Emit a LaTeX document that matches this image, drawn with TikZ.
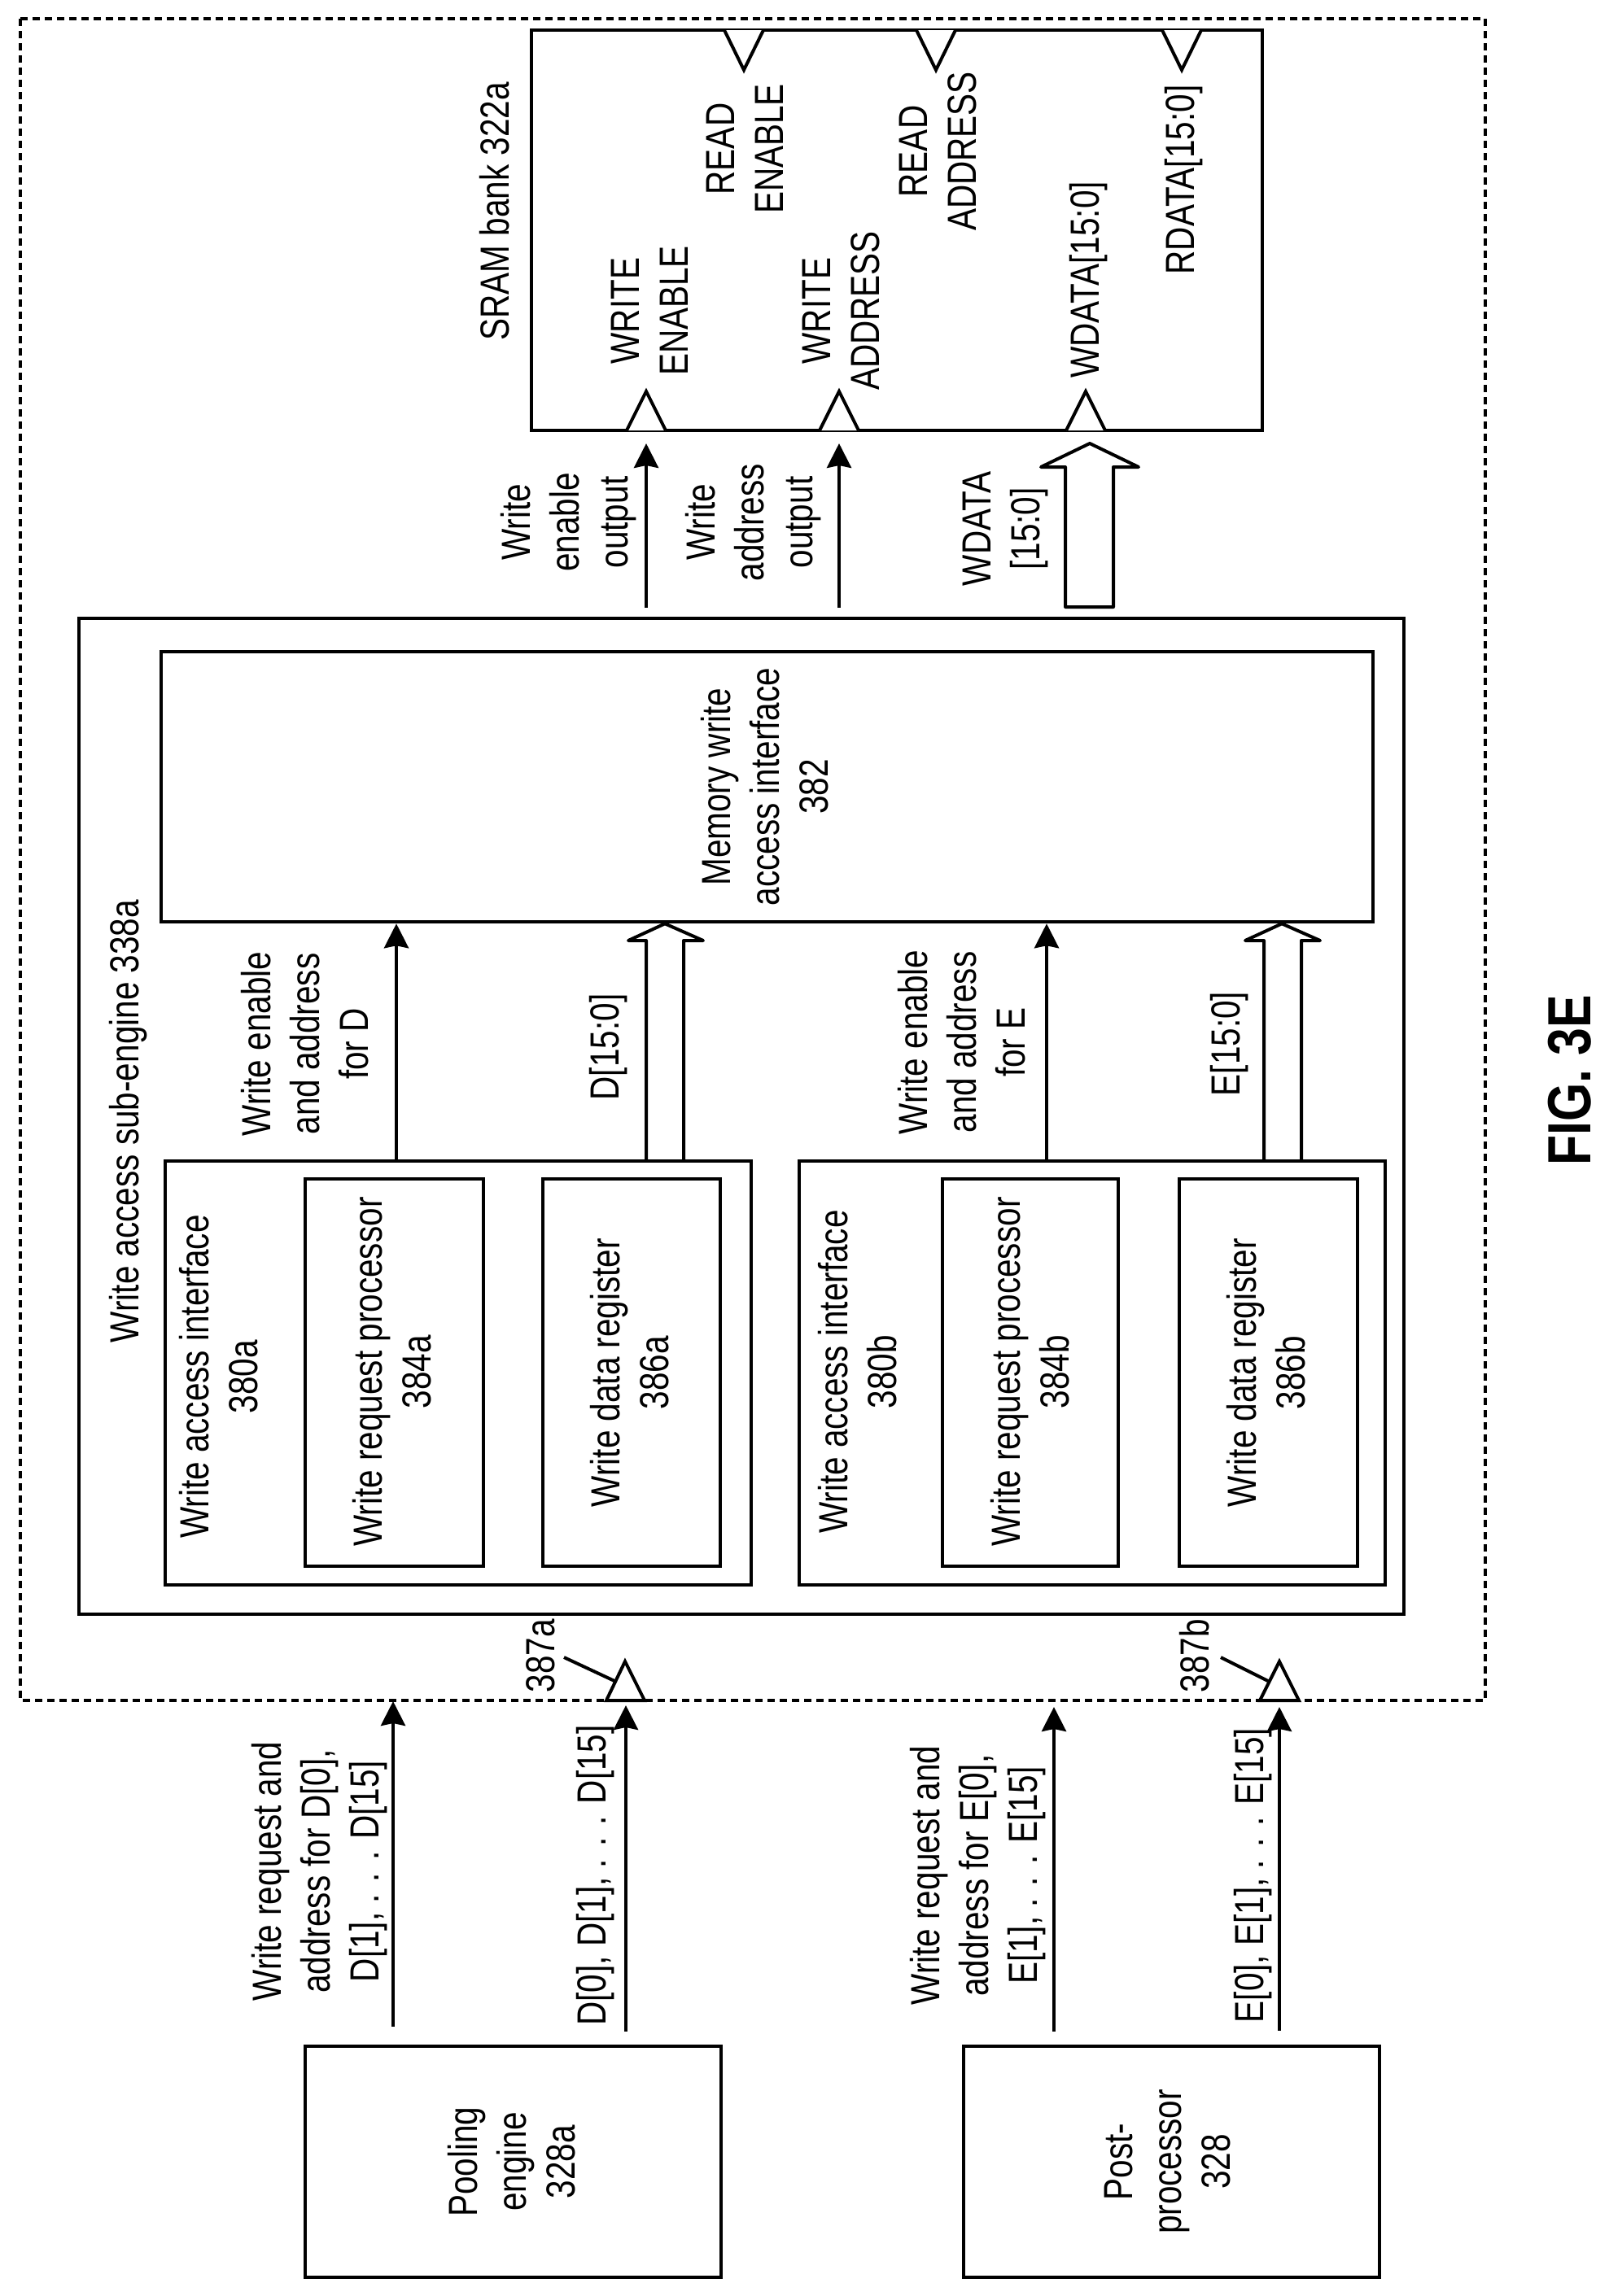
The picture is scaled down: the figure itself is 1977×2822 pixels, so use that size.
\documentclass[tikz,border=0pt]{standalone}
\usepackage{fontspec}
\setmainfont{Liberation Sans}[FakeStretch=0.81]
\usetikzlibrary{arrows.meta}
\newcommand{\labstrut}{\rule[-11pt]{0pt}{47pt}}
\tikzset{
  x=1pt,y=-1pt,
  box/.style={draw=black,line width=4.5pt,fill=none,inner sep=0pt,minimum width=#1},
  lab/.style={rotate=90,align=center,inner sep=0pt,font=\fontsize{50}{60}\selectfont,
    execute at begin node=\labstrut,execute at end node=\labstrut},
  sig/.style={draw=black,line width=4.2pt,-{Stealth[length=30pt,width=30pt,inset=3pt]}},
  wide/.style={draw=black,line width=4pt,fill=white,line join=round},
  port/.style={draw=black,line width=4pt,fill=white,line join=miter},
  lead/.style={draw=black,line width=4pt}
}
\begin{document}
\begin{tikzpicture}
\useasboundingbox (0,0) rectangle (1977,2822);
\fill[white] (0,0) rectangle (1977,2822);
% outer dashed region
\draw[black,line width=4pt,dash pattern=on 9pt off 6pt] (25,23) rectangle (1825,2090);
% boxes
\node[box=898pt,minimum height=492pt] (sram) at (1102,283) {};
\node[box=1628pt,minimum height=1224pt] (engine) at (911,1372) {};
\node[box=1489pt,minimum height=332pt] (mem) at (942.5,967) {};
\node[box=720pt,minimum height=521pt] (ifa) at (563,1687.5) {};
\node[box=720pt,minimum height=521pt] (ifb) at (1342,1687.5) {};
\node[box=219pt,minimum height=476pt] (reqa) at (484.5,1687) {};
\node[box=218pt,minimum height=476pt] (dataa) at (776,1687) {};
\node[box=216pt,minimum height=476pt] (reqb) at (1266,1687) {};
\node[box=219pt,minimum height=476pt] (datab) at (1558.5,1687) {};
\node[box=511pt,minimum height=284pt] (pool) at (630.5,2657) {};
\node[box=511pt,minimum height=284pt] (post) at (1439.5,2657) {};
% free ends
\coordinate (wes) at (794,747);
\coordinate (wee) at (794,545);
\coordinate (was) at (1031,747);
\coordinate (wae) at (1031,545);
\coordinate (rqDe) at (483,2091);
\coordinate (dDe) at (769,2096);
\coordinate (rqEe) at (1295,2098);
\coordinate (dEe) at (1572,2098);
% ports
\draw[port] (890,37) -- (914,86) -- (938,37);
\draw[port] (1126,37) -- (1150,86) -- (1174,37);
\draw[port] (1428,37) -- (1452,86) -- (1476,37);
\draw[port] (770,529) -- (794,481) -- (818,529);
\draw[port] (1007,529) -- (1031,481) -- (1055,529);
\draw[port] (1310,529) -- (1334,481) -- (1358,529);
\draw[port] (745,2090) -- (768,2042) -- (792,2090) -- cycle;
\draw[port] (1548,2090) -- (1572,2042) -- (1596,2090) -- cycle;
% leaders
\draw[lead] (693,2037) -- (755,2066);
\draw[lead] (1500,2037) -- (1558,2066);
% connectors
\draw[sig] (wes) -- (wee);
\draw[sig] (was) -- (wae);
\draw[sig] (487,0 |- ifa.north) -- (487,0 |- mem.south);
\draw[sig] (1286,0 |- ifb.north) -- (1286,0 |- mem.south);
\draw[sig] (483,0 |- pool.north) ++(0,-22) -- (rqDe);
\draw[sig] (769,0 |- pool.north) ++(0,-16) -- (dDe);
\draw[sig] (1295,0 |- post.north) ++(0,-16) -- (rqEe);
\draw[sig] (1572,0 |- post.north) ++(0,-17) -- (dEe);
% wide arrows
\draw[wide] (1309,746) -- (1309,574) -- (1279,574) -- (1339,545) -- (1399,574) -- (1368,574) -- (1368,746) -- cycle;
\draw[wide] (794,0 |- ifa.north) -- (794,1156) -- (772,1156) -- (817,0 |- mem.south) -- (864,1156) -- (840,1156) -- (840,0 |- ifa.north);
\draw[wide] (1553,0 |- ifb.north) -- (1553,1156) -- (1530,1156) -- (1575,0 |- mem.south) -- (1622,1156) -- (1599,1156) -- (1599,0 |- ifb.north);
% labels
\node[lab] (tsram) at (613,260) {SRAM bank 322a};
\node[lab] (twe) at (804,382) {WRITE\\ENABLE};
\node[lab] (twa) at (1039,382) {WRITE\\ADDRESS};
\node[lab] (twd) at (1337.5,344) {WDATA[15:0]};
\node[lab] (tre) at (921,183) {READ\\ENABLE};
\node[lab] (tra) at (1158,186) {READ\\ADDRESS};
\node[lab] (trd) at (1454.5,221) {RDATA[15:0]};
\node[lab] (twen) at (698.5,642) {Write\\enable\\output};
\node[lab] (twad) at (926,642) {Write\\address\\output};
\node[lab] (twda) at (1236,650) {WDATA\\{[15:0]}};
\node[lab] (teng) at (158,1378) {Write access sub-engine 338a};
\node[lab] (tmem) at (945,967) {Memory write\\access interface\\382};
\node[lab] (tead) at (380,1283) {Write enable\\and address\\for D};
\node[lab] (tdd) at (748,1287) {D[15:0]};
\node[lab] (teae) at (1187,1281) {Write enable\\and address\\for E};
\node[lab] (tee) at (1511,1283) {E[15:0]};
\node[lab] (tifa) at (274,1692) {Write access interface\\380a};
\node[lab] (tifb) at (1059,1686) {Write access interface\\380b};
\node[lab] (treqa) at (486.5,1686) {Write request processor\\384a};
\node[lab] (treqb) at (1271,1686) {Write request processor\\384b};
\node[lab] (tdata) at (779,1687) {Write data register\\386a};
\node[lab] (tdatb) at (1561,1687) {Write data register\\386b};
\node[lab] (t387a) at (669,2035) {387a};
\node[lab] (t387b) at (1473,2035) {387b};
\node[lab] (trqd) at (393,2300) {Write request and\\address for D[0],\\D[1], . . . D[15]};
\node[lab] (tdl) at (732,2305) {D[0], D[1], . . . D[15]};
\node[lab] (trqe) at (1202,2305) {Write request and\\address for E[0],\\E[1], . . . E[15]};
\node[lab] (tel) at (1540,2305) {E[0], E[1], . . . E[15]};
\node[lab] (tpool) at (633.5,2657) {Pooling\\engine\\328a};
\node[lab] (tpost) at (1440,2657) {Post-\\processor\\328};
\node[rotate=90,inner sep=0pt,font=\fontsize{75}{80}\selectfont\bfseries] (tfig) at (1929,1328) {FIG. 3E};
\end{tikzpicture}
\end{document}
